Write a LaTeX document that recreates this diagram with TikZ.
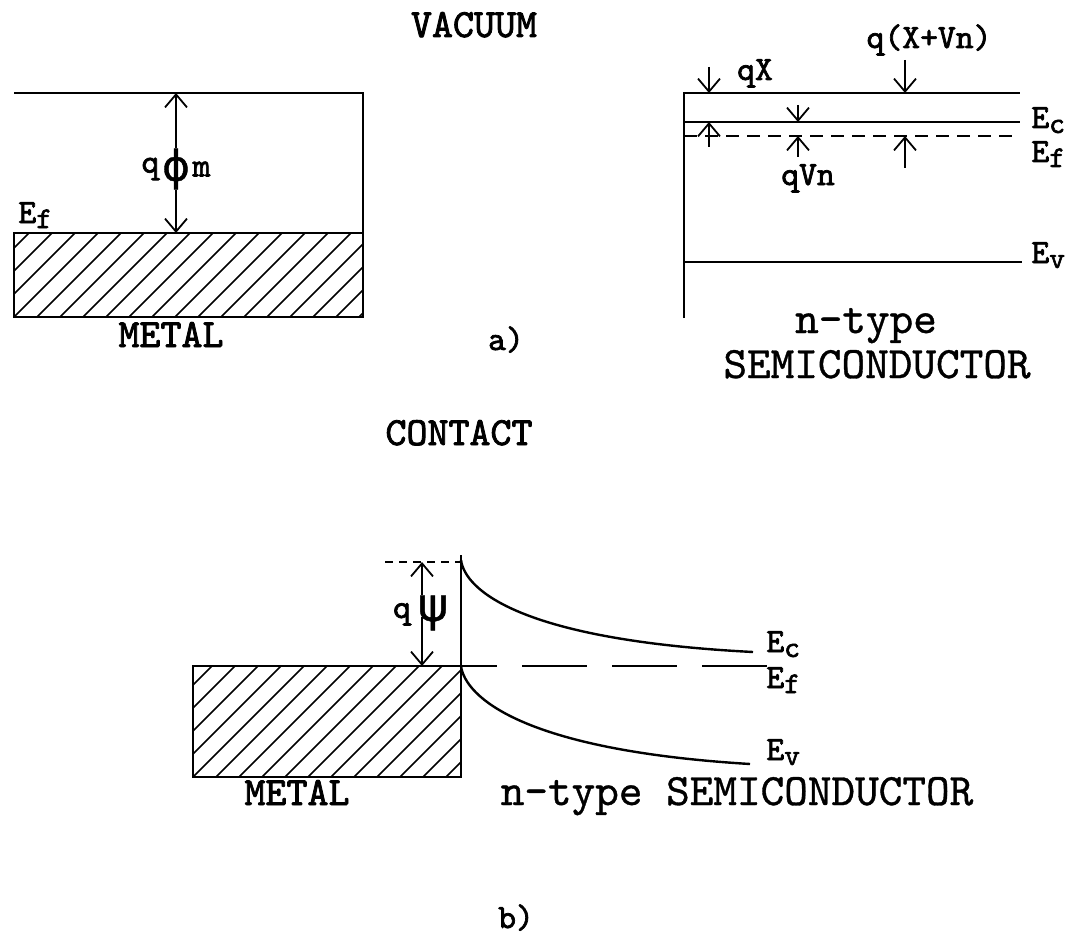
\documentclass[tikz,border=0pt]{standalone}
\usepackage{fontspec}
\newfontfamily\grk{DejaVu Sans}[FakeBold=1]
\newfontfamily\boldtt{lmmono10-regular.otf}[FakeBold=2]
\newfontfamily\midtt{lmmono10-regular.otf}[FakeBold=0.8]
\usetikzlibrary{arrows.meta,positioning,calc}
\newcommand{\Elev}[1]{E\raisebox{-2.5pt}{\fontsize{15}{15}\selectfont #1}}

\begin{document}
\begin{tikzpicture}[x=0.5pt,y=-0.5pt,
    level/.style={line width=1.2pt},
    arr/.style={line width=0.9pt,-{Straight Barb[length=6.5pt,width=11pt]}},
    hatch/.style={draw,line width=1.2pt,path picture={
        \foreach \k in {-6,...,17}
          \draw[line width=0.8pt] ([xshift=\k*11.5pt]path picture bounding box.south west) -- ++(130pt,130pt);}},
    title/.style={font=\boldtt\fontsize{20}{22}\selectfont,inner sep=0pt},
    mat/.style={font=\midtt\fontsize{22.5}{25}\selectfont,inner sep=0pt},
    lab/.style={font=\boldtt\fontsize{17}{19}\selectfont,inner sep=0pt},
    greek/.style={font=\grk,inner sep=0pt}]
  \useasboundingbox (0,0) rectangle (1074,936);

  % a) vacuum levels
  \node[title,anchor=base] (vac) at (474,37) {VACUUM};
  \coordinate (vacL) at (14,93);
  \coordinate (vacR) at (363,93);
  \coordinate (mtop) at (14,233);
  \draw[hatch] (mtop) rectangle (363,317);
  \draw[level] (vacL) -- (vacR) -- (363,233);
  \node[greek] (phi) at (176,169) {\fontsize{21}{21}\selectfont ϕ};
  \node[lab,left=1pt of phi] (phiq) {q};
  \node[lab,right=1pt of phi] (phimm) {m};
  \draw[arr] (phi.north) -- (phi |- vacL);
  \draw[arr] (phi.south) -- (phi |- mtop);
  \node[lab,anchor=base west] (efm) at (18,223) {\Elev{f}};
  \node[title,anchor=base] (metal1) at (171,347) {METAL};
  \node[lab,anchor=base] (tagA) at (506,350) {a)};

  \coordinate (s0) at (684,93);
  \coordinate (sbot) at (684,318);
  \coordinate (ec0) at (684,122);
  \coordinate (ef0) at (684,136);
  \coordinate (ev0) at (684,262);
  \draw[level] (sbot) -- (s0) -- (1020,93);
  \draw[level] (ec0) -- (1020,122);
  \draw[level,dash pattern=on 6.5pt off 4pt] (ef0) -- (1013,136);
  \draw[level] (ev0) -- (1022,262);
  \node[lab,anchor=base west] (ec1) at (1031,128) {\Elev{c}};
  \node[lab,anchor=base west] (ef1) at (1031,162) {\Elev{f}};
  \node[lab,anchor=base west] (ev1) at (1031,263) {\Elev{v}};

  \coordinate (qxT) at (709,67);
  \coordinate (qxB) at (709,147);
  \draw[arr] (qxT) -- (qxT |- s0);
  \draw[arr] (qxB) -- (qxB |- ec0);
  \node[lab,anchor=base] (qx) at (755,80) {qX};
  \coordinate (qvT) at (798,105);
  \coordinate (qvB) at (798,157);
  \draw[arr] (qvT) -- (qvT |- ec0);
  \draw[arr] (qvB) -- (qvB |- ef0);
  \node[lab,anchor=base] (qvn) at (808,185) {qVn};
  \coordinate (qsT) at (905,60);
  \coordinate (qsB) at (905,168);
  \draw[arr] (qsT) -- (qsT |- s0);
  \draw[arr] (qsB) -- (qsB |- ef0);
  \node[lab,anchor=base] (qsum) at (929,48) {q(X+Vn)};
  \node[mat,anchor=base] (ntype1) at (866,333) {n-type};
  \node[mat,anchor=base] (semi1) at (877,378) {SEMICONDUCTOR};

  % b) contact
  \node[title,anchor=base] (cont) at (459,445) {CONTACT};
  \coordinate (jtop) at (461,560);
  \coordinate (jef) at (461,666);
  \draw[hatch] (193,666) rectangle (461,777);
  \draw[level] (461,555) -- (jef);
  \draw[level,dash pattern=on 4pt off 3pt] (385,562) -- (461,562);
  \draw[level] (jtop) .. controls (465,590) and (520,640) .. (753,652);
  \draw[level,dash pattern=on 32.5pt off 12.5pt,dash phase=14.5pt] (jef) -- (767,666);
  \draw[level] (jef) .. controls (465,696) and (520,750) .. (750,764);
  \coordinate (psiT) at (422,562);
  \coordinate (psiB) at (422,666);
  \node[greek] (psi) at (433,613) {\fontsize{23}{23}\selectfont ψ};
  \node[lab,anchor=base] (psiq) at (402,618) {q};
  \draw[arr] (psiT |- psi.north) -- (psiT);
  \draw[arr] ([yshift=7pt]psiB |- psi.south) -- (psiB);
  \node[lab,anchor=base west] (ec2) at (766,652) {\Elev{c}};
  \node[lab,anchor=base west] (ef2) at (766,688) {\Elev{f}};
  \node[lab,anchor=base west] (ev2) at (766,760) {\Elev{v}};
  \node[title,anchor=base] (metal2) at (297,805) {METAL};
  \node[mat,anchor=base] (semi2) at (737,805) {n-type SEMICONDUCTOR};
  \node[lab,anchor=base] (tagB) at (516,928) {b)};
\end{tikzpicture}
\end{document}
